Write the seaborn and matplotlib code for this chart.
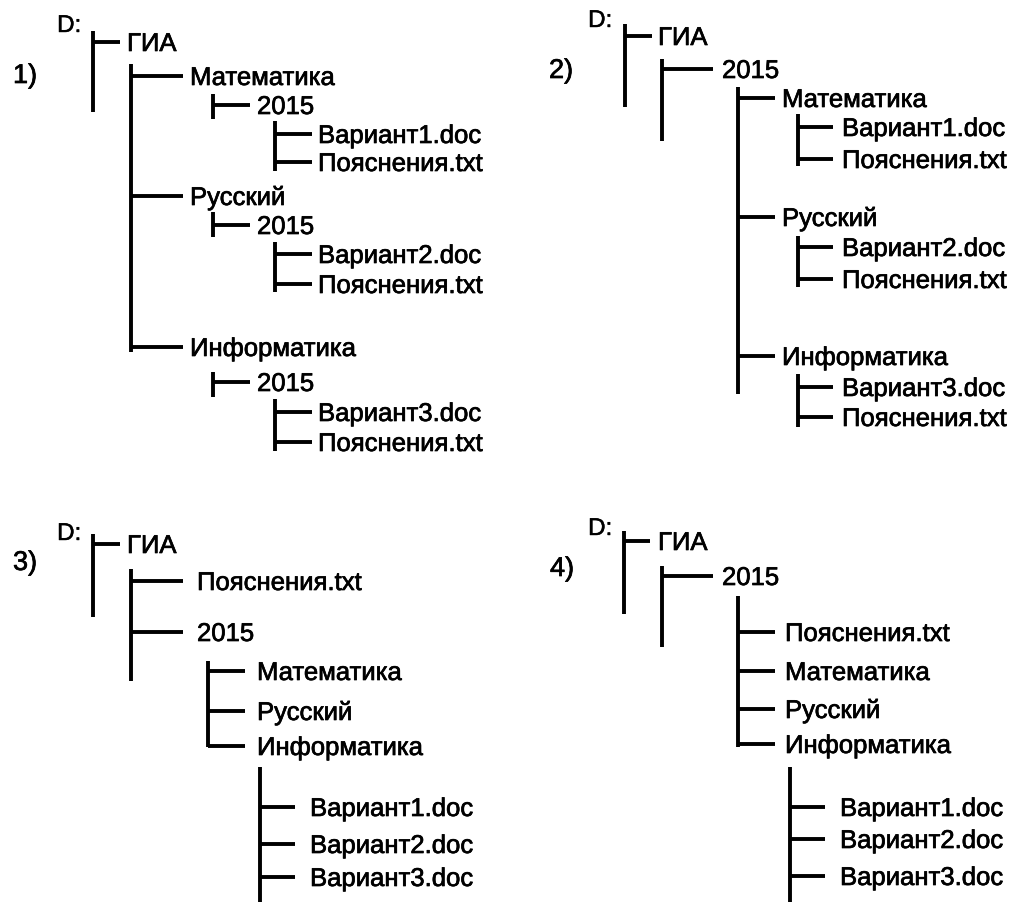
import matplotlib
matplotlib.use("Agg")
import matplotlib.pyplot as plt
import matplotlib.patheffects as pe
import seaborn as sns

# tree contents of the four variants: (label, depth), depth 0 is the drive "D:"
p1_labels = ["ГИА", "Математика", "2015", "Вариант1.doc", "Пояснения.txt",
             "Русский", "2015", "Вариант2.doc", "Пояснения.txt",
             "Информатика", "2015", "Вариант3.doc", "Пояснения.txt"]
p1_depth = [1, 2, 3, 4, 4, 2, 3, 4, 4, 2, 3, 4, 4]

p2_labels = ["ГИА", "2015", "Математика", "Вариант1.doc", "Пояснения.txt",
             "Русский", "Вариант2.doc", "Пояснения.txt",
             "Информатика", "Вариант3.doc", "Пояснения.txt"]
p2_depth = [1, 2, 3, 4, 4, 3, 4, 4, 3, 4, 4]

p3_labels = ["ГИА", "Пояснения.txt", "2015", "Математика", "Русский",
             "Информатика", "Вариант1.doc", "Вариант2.doc", "Вариант3.doc"]
p3_depth = [1, 2, 2, 3, 3, 3, 4, 4, 4]

p4_labels = ["ГИА", "2015", "Пояснения.txt", "Математика", "Русский",
             "Информатика", "Вариант1.doc", "Вариант2.doc", "Вариант3.doc"]
p4_depth = [1, 2, 3, 3, 3, 3, 4, 4, 4]

panel_names = ["1)", "2)", "3)", "4)"]
root_name = "D:"

# layout (pixels of the 1012x903 picture)
layout = [
    dict(lab=(13, 75), root=(57, 33),
         rows=[43, 77, 106, 135, 163, 197, 226, 255, 285, 348, 383, 413, 443],
         bar_x=[93, 131, 213, 275], line_end=[None, 120, 183, 250, 312],
         text_x=[None, 127, 190, 257, 318],
         bars=[(32, 113), (65, 353), (95, 120), (122, 172), (213, 238),
               (243, 293), (373, 398), (400, 452)]),
    dict(lab=(549, 70), root=(588, 28),
         rows=[37, 70, 99, 128, 160, 218, 248, 280, 357, 388, 418],
         bar_x=[625, 662, 738, 798], line_end=[None, 652, 713, 775, 833],
         text_x=[None, 658, 722, 782, 842],
         bars=[(25, 108), (60, 142), (88, 395), (115, 167), (237, 288),
               (375, 428)]),
    dict(lab=(13, 562), root=(57, 541),
         rows=[545, 582, 633, 672, 712, 747, 808, 845, 878],
         bar_x=[93, 131, 208, 260], line_end=[None, 120, 183, 245, 295],
         text_x=[None, 127, 197, 257, 310],
         bars=[(535, 618), (570, 682), (662, 748), (768, 910)]),
    dict(lab=(550, 568), root=(588, 536),
         rows=[542, 577, 633, 672, 710, 745, 808, 840, 877],
         bar_x=[624, 662, 738, 790], line_end=[None, 650, 713, 775, 825],
         text_x=[None, 658, 722, 785, 840],
         bars=[(532, 615), (567, 648), (597, 748), (768, 910)]),
]

sns.set_theme(style="white")
plt.rcParams["font.family"] = ["Liberation Sans", "DejaVu Sans"]

fig = plt.figure(figsize=(10.12, 9.03), dpi=100)
ax = fig.add_axes([0, 0, 1, 1])
ax.set_xlim(0, 1012)
ax.set_ylim(903, 0)
ax.axis("off")

FS = 18.5
LW = 2.8
BASE = 9  # baseline offset below row centre
bold = [pe.withStroke(linewidth=0.5, foreground="black")]
semi = [pe.withStroke(linewidth=0.3, foreground="black")]

panels = [(p1_labels, p1_depth), (p2_labels, p2_depth),
          (p3_labels, p3_depth), (p4_labels, p4_depth)]

for name, (labels, depth), lay in zip(panel_names, panels, layout):
    ax.text(lay["lab"][0], lay["lab"][1] + BASE, name, fontsize=FS + 1,
            va="baseline", ha="left", color="black", path_effects=bold)
    ax.text(lay["root"][0], lay["root"][1], root_name, fontsize=FS - 1,
            va="baseline", ha="left", color="black", path_effects=semi)

    # parents in order of appearance -> one vertical bar each
    stack = {0: -1}
    order = [-1]
    for i, d in enumerate(depth):
        stack[d] = i
        if i + 1 < len(depth) and depth[i + 1] > d:
            order.append(i)
    bar_span = dict(zip(order, lay["bars"]))

    for p, (top, bot) in bar_span.items():
        pd_ = 0 if p == -1 else depth[p]
        ax.vlines(lay["bar_x"][pd_], top, bot, color="black", lw=LW)

    for i, (lbl, d) in enumerate(zip(labels, depth)):
        y = lay["rows"][i]
        ax.hlines(y, lay["bar_x"][d - 1], lay["line_end"][d],
                  color="black", lw=LW)
        ax.text(lay["text_x"][d], y + BASE, lbl, fontsize=FS,
                va="baseline", ha="left", color="black", path_effects=bold)

fig.savefig("out.png", dpi=100, facecolor="white")
